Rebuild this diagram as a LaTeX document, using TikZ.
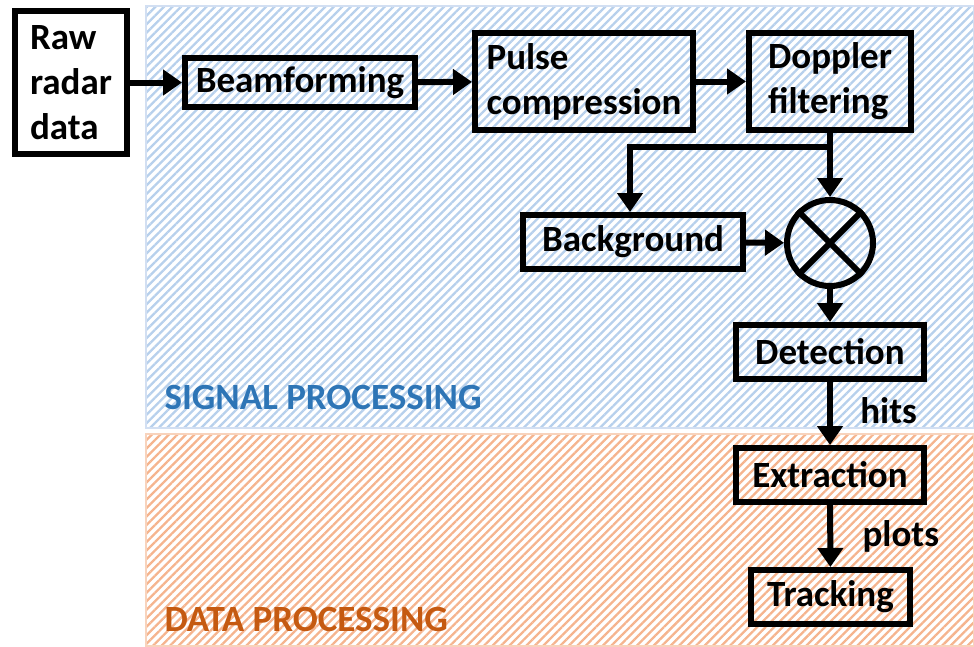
\documentclass[tikz,border=0pt]{standalone}
\usepackage{fontspec}
\setmainfont{Carlito}
\usetikzlibrary{arrows.meta}
\usetikzlibrary{patterns.meta}
\usetikzlibrary{positioning}
\definecolor{sigblue}{HTML}{2E75B6}
\definecolor{datorange}{HTML}{C55A11}
\definecolor{hatchblue}{HTML}{B7D0EC}
\definecolor{hatchorange}{HTML}{F5B48E}
\definecolor{edgeblue}{HTML}{D2DFF2}
\definecolor{edgeorange}{HTML}{F8D3BC}
\newcommand{\lbl}{\fontsize{37}{45}\selectfont\bfseries}
\tikzset{
  blk/.style={draw, line width=6pt, inner sep=0pt, font=\lbl},
  flow/.style={line width=6pt, -{Triangle[length=19pt,width=25pt]}},
  zone/.style={line width=2pt},
}

\begin{document}
\begin{tikzpicture}[x=1pt, y=-1pt, font=\lbl]
  \useasboundingbox (0,0) rectangle (974,646);
  % hatched zones
  \path[zone, draw=edgeblue, pattern={Lines[angle=45,distance=6pt,line width=2.3pt]},
        pattern color=hatchblue] (146,6) rectangle (974,428);
  \path[zone, draw=edgeorange, pattern={Lines[angle=45,distance=6pt,line width=2.3pt]},
        pattern color=hatchorange] (146,434) rectangle (974,646);
  \node[text=sigblue, anchor=west] (sig) at (161,397) {SIGNAL PROCESSING};
  \node[text=datorange, anchor=west] (dat) at (161,619) {DATA PROCESSING};

  % blocks
  \node[blk, fill=white, minimum width=112pt, minimum height=143pt, align=left] (raw) at (71,82.5) {Raw\\radar\\data};
  \node[blk, minimum width=230pt, minimum height=49pt] (beam) at (300,82.5) {Beamforming};
  \node[blk, minimum width=218pt, minimum height=97pt, align=left] (pulse) at (584,81.5) {Pulse\\compression};
  \node[blk, minimum width=162pt, minimum height=97pt, align=left] (dopp) at (830,81.5) {Doppler\\filtering};
  \node[blk, minimum width=220pt, minimum height=54pt] (bg) at (633,242) {Background};
  \node[draw, circle, line width=6pt, minimum size=86pt, inner sep=0pt] (mix) at (830,243) {};
  \draw[line width=6pt] (mix.north west) -- (mix.south east) (mix.north east) -- (mix.south west);
  \node[blk, minimum width=188pt, minimum height=54pt] (det) at (830,352) {Detection};
  \node[blk, minimum width=188pt, minimum height=54pt] (ext) at (830,475) {Extraction};
  \node[blk, minimum width=159pt, minimum height=54pt] (trk) at (830.5,597) {Tracking};

  \coordinate (split) at (830,147);
  \coordinate (turn) at (630,147);

  \path[flow]
    (raw) edge (beam)
    (beam) edge (pulse)
    (pulse) edge (dopp)
    (dopp.south -| mix) edge (mix)
    (bg) edge (mix)
    (mix) edge (det)
    (det) edge node[right=24pt, yshift=3pt] (hits) {hits} (ext)
    (ext) edge node[right=26pt] (plots) {plots} (trk);
  \draw[flow] (split) -- (turn) -- (turn |- bg.north);
\end{tikzpicture}
\end{document}
